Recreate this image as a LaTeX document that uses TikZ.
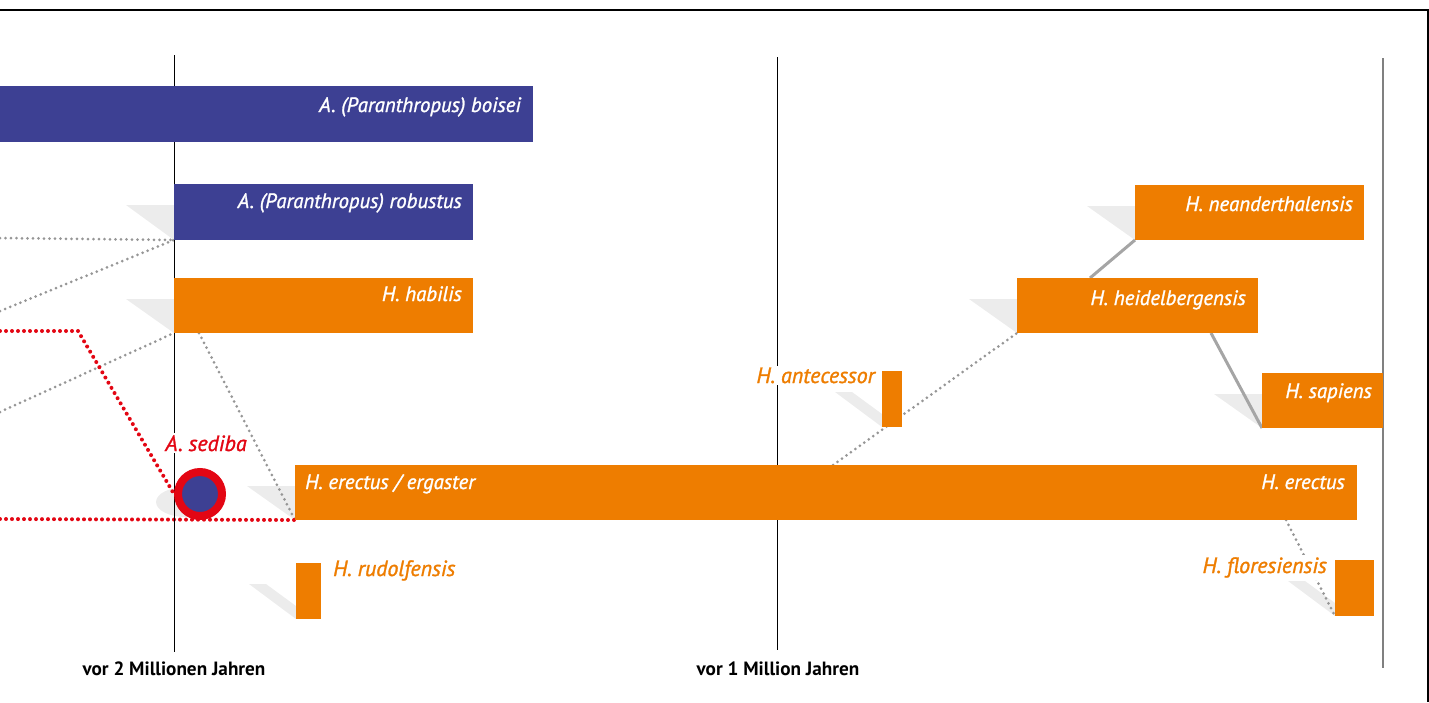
\documentclass[tikz,border=0pt]{standalone}
\usepackage{fontspec}
\setmainfont{PT Sans}
\newfontfamily\semifont{PT Sans}[FakeBold=1.3]
\usetikzlibrary{calc,positioning,backgrounds}

\definecolor{hblue}{RGB}{61,64,147}
\definecolor{horange}{RGB}{238,125,0}
\definecolor{hred}{RGB}{227,6,19}
\definecolor{shadowgray}{RGB}{236,236,236}
\definecolor{dotgray}{RGB}{150,150,150}
\definecolor{linkgray}{RGB}{165,165,165}

% shadow wedge left of a bar
\newcommand\castshade[1]{\fill[shadowfill] ($(#1.north west)+(-48,21)$) -- ($(#1.north west)+(0,21)$) -- (#1.south west) -- cycle;}
\newcommand\castshadenarrow[1]{\fill[shadowfill] ($(#1.north west)+(-47,21)$) -- ($(#1.north west)+(-30,21)$) -- ($(#1.north west)+(0,43)$) -- (#1.south west) -- cycle;}

\begin{document}
\begin{tikzpicture}[x=1pt,y=-1pt,
  timebar/.style={rectangle, fill=#1, inner sep=0pt, outer sep=0pt, anchor=north west},
  inlbl/.style={font=\fontsize{20.8}{22}\semifont\itshape, text=white, inner sep=0pt},
  outlbl/.style={font=\fontsize{22}{24}\semifont\itshape, text=#1, fill=white, inner sep=2pt},
  axislbl/.style={font=\fontsize{19.2}{21}\selectfont\bfseries, inner sep=0pt},
  dots/.style={draw=dotgray, line width=3pt, line cap=round, dash pattern=on 0pt off 5.5pt},
  reddots/.style={draw=hred, line width=4pt, line cap=round, dash pattern=on 0pt off 6pt},
  link/.style={draw=linkgray, line width=3pt},
  shadowfill/.style={fill=shadowgray}]
\useasboundingbox (0,0) rectangle (1429,702);

% frame
\draw[line width=2pt] (0,9.5) -- (1428,9.5) -- (1428,702);

% time lines
\foreach \xa/\ya/\yb in {174/55/652, 777/57/650}
{
\draw[line width=1pt] (\xa,\ya) -- (\xa,\yb);
}
\draw[line width=2.5pt, color=gray] (1383,58) -- (1383,668);

% bars
\node[timebar=hblue, minimum width=533pt, minimum height=56pt] (boisei) at (0,86) {};
\node[timebar=hblue, minimum width=299pt, minimum height=56pt] (robustus) at (174,184) {};
\node[timebar=horange, minimum width=299pt, minimum height=55pt] (habilis) at (174,278) {};
\node[timebar=horange, minimum width=1062pt, minimum height=55pt] (erectus) at (295,465) {};
\node[timebar=horange, minimum width=25pt, minimum height=56pt] (rudolf) at (296,563) {};
\node[timebar=horange, minimum width=20pt, minimum height=56pt] (antec) at (882,371) {};
\node[timebar=horange, minimum width=241pt, minimum height=55pt] (heidel) at (1017,278) {};
\node[timebar=horange, minimum width=229pt, minimum height=55pt] (neander) at (1135,185) {};
\node[timebar=horange, minimum width=121pt, minimum height=55pt] (sapiens) at (1262,373) {};
\node[timebar=horange, minimum width=39pt, minimum height=56pt] (flores) at (1335,560) {};

% A. sediba
\node[circle, draw=hred, line width=8pt, fill=hblue, minimum size=44pt, inner sep=0pt] (sediba) at (200,494) {};

\coordinate (left1) at (0,238);
\coordinate (left2) at (0,311);
\coordinate (left3) at (0,412);
\coordinate (redleft1) at (0,331);
\coordinate (redbend) at (78,331);
\coordinate (redleft2) at (0,519);

\begin{pgfonlayer}{background}
\castshade{robustus}
\castshade{habilis}
\castshade{erectus}
\castshade{heidel}
\castshade{neander}
\castshade{sapiens}
\castshadenarrow{rudolf}
\castshadenarrow{antec}
\castshadenarrow{flores}
\fill[shadowfill] (186,502) ellipse [x radius=30pt, y radius=15pt];

\draw[dots] (left1) -- (robustus.south west);
\draw[dots] (left2) -- (robustus.south west);
\draw[dots] (left3) -- (habilis.south west);
\draw[dots] ([xshift=25pt]habilis.south west) -- (erectus.south west);
\draw[dots] ([xshift=538pt]erectus.north west) -- (heidel.south west);
\draw[dots] ([xshift=991pt]erectus.south west) -- (flores.south west);
\draw[link] ([xshift=73pt]heidel.north west) -- (neander.south west);
\draw[link] ([xshift=194pt]heidel.south west) -- (sapiens.south west);

\draw[reddots] (redleft1) -- (redbend) -- (sediba.west);
\draw[reddots] (redleft2) -- (erectus.south west);
\end{pgfonlayer}

% labels
\node[inlbl, anchor=base east] (boiseilbl) at (521,112) {A. (Paranthropus) boisei};
\node[inlbl, anchor=base east] (robustuslbl) at (462,208) {A. (Paranthropus) robustus};
\node[inlbl, anchor=base east] (habilislbl) at (462,301) {H. habilis};
\node[inlbl, anchor=base west] (ergasterlbl) at (305,489) {H. erectus / ergaster};
\node[inlbl, anchor=base east] (erectuslbl) at (1345,489) {H. erectus};
\node[inlbl, anchor=base east] (heidellbl) at (1246,305) {H. heidelbergensis};
\node[inlbl, anchor=base east] (neanderlbl) at (1353,211) {H. neanderthalensis};
\node[inlbl, anchor=base east] (sapienslbl) at (1372,398) {H. sapiens};
\node[outlbl=horange, anchor=base west] (rudolflbl) at (331,576) {H. rudolfensis};
\node[outlbl=horange, anchor=base east] (anteclbl) at (877,383) {H. antecessor};
\node[outlbl=horange, anchor=base east] (floreslbl) at (1329,573) {H. floresiensis};
\node[outlbl=hred, anchor=base] (sedibalbl) at (206,451) {A. sediba};

\node[axislbl, anchor=base] (tick2) at (174,675) {vor 2 Millionen Jahren};
\node[axislbl, anchor=base] (tick1) at (778,675) {vor 1 Million Jahren};

\end{tikzpicture}
\end{document}
